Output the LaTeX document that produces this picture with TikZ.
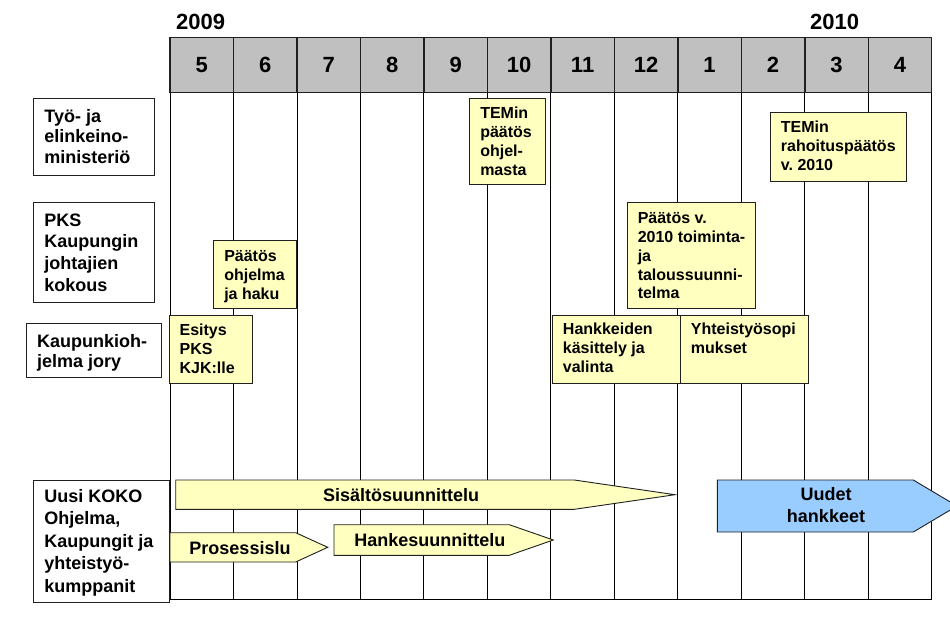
\documentclass[tikz,border=0pt]{standalone}
\usepackage{fontspec}
\setmainfont{Liberation Sans}
\definecolor{hgray}{HTML}{C0C0C0}
\definecolor{yel}{HTML}{FFFFC0}
\definecolor{blu}{HTML}{99CCFF}
\definecolor{edge}{HTML}{202020}
\newcommand\btext[4]{\parbox[c][#2][t]{#1}{\vspace*{\dimexpr#3-\ht\strutbox\relax}\raggedright\strut#4}}
\tikzset{
  hcell/.style={draw=edge, line width=1.4pt, fill=hgray, minimum width=63.48pt, minimum height=55.4pt, inner sep=0pt, font=\fontsize{22}{26}\selectfont\bfseries},
  year/.style={anchor=base west, inner sep=0pt, font=\fontsize{22}{26}\selectfont\bfseries},
  lab/.style={draw=edge, line width=0.9pt, fill=white, inner xsep=11pt, inner ysep=0pt, anchor=north west, font=\fontsize{18}{22}\selectfont\bfseries},
  ybox/.style={draw=edge, line width=0.9pt, fill=yel, inner xsep=10.5pt, inner ysep=0pt, anchor=north west, font=\fontsize{16}{19}\selectfont\bfseries},
  grid/.style={line width=0.9pt, draw=black},
  arr/.style={draw=edge, line width=0.9pt, fill=yel},
  arrtext/.style={inner sep=0pt, font=\fontsize{18}{22}\selectfont\bfseries},
}
\begin{document}
\begin{tikzpicture}[x=1pt, y=-1pt]
\clip (0,0) rectangle (950,630);
\useasboundingbox (0,0) rectangle (950,630);
% grid
\foreach \i in {0,...,12} {
  \draw[grid] ({170+\i*63.48},92.7) -- ({170+\i*63.48},599);
}
\draw[grid] (170,599) -- (931.76,599);
% header
\foreach \m [count=\i] in {5,6,7,8,9,10,11,12,1,2,3,4} {
  \node[hcell] (h\i) at ({170+(\i-0.5)*63.48},65) {\m};
}
\node[year] (y2009) at (176,29.3) {2009};
\node[year] (y2010) at (810,29.3) {2010};
% left labels
\node[lab, font=\fontsize{18}{20.8}\selectfont\bfseries] (l1) at (33,97.7) {\btext{98.7pt}{77pt}{24pt}{Työ- ja\\elinkeino-\\ministeriö}};
\node[lab, font=\fontsize{18}{21.8}\selectfont\bfseries] (l2) at (33,202.3) {\btext{98.7pt}{99.4pt}{23.4pt}{PKS\\Kaupungin\\johtajien\\kokous}};
\node[lab, font=\fontsize{18}{20}\selectfont\bfseries] (l3) at (25.7,322.7) {\btext{113.6pt}{54.6pt}{24pt}{Kaupunkioh-\\jelma jory}};
\node[lab, font=\fontsize{18}{22.5}\selectfont\bfseries] (l4) at (33,480) {\btext{114.3pt}{121.7pt}{21.7pt}{Uusi KOKO\\Ohjelma,\\Kaupungit ja\\yhteistyö-\\kumppanit}};
% yellow boxes
\node[ybox] (tem1) at (469.3,97.7) {\btext{54.7pt}{86.6pt}{20.6pt}{TEMin\\päätös\\ohjel-\\masta}};
\node[ybox] (tem2) at (770,112.3) {\btext{114.7pt}{68.4pt}{19.4pt}{TEMin\\rahoituspäätös\\v.~2010}};
\node[ybox] (paat1) at (213.3,240) {\btext{62pt}{67.7pt}{21pt}{Päätös\\ohjelma\\ja~haku}};
\node[ybox] (esit) at (168.7,314.7) {\btext{62pt}{68pt}{20.3pt}{Esitys\\PKS\\KJK:lle}};
\node[ybox, font=\fontsize{16}{18.75}\selectfont\bfseries, inner xsep=10pt] (paat2) at (627.3,202.3) {\btext{107.7pt}{106pt}{21pt}{Päätös~v.\\\mbox{2010 toiminta-}\\ja\\taloussuunni-\\telma}};
\node[ybox] (hank) at (552,314.7) {\btext{107pt}{68pt}{19.3pt}{Hankkeiden\\käsittely~ja\\valinta}};
\node[ybox] (yht) at (680,314.7) {\btext{107.3pt}{68pt}{19.3pt}{Yhteistyösopi\\mukset}};
% arrows
\draw[arr] (175.7,480) -- (574.3,480) -- (675,494.7) -- (574.3,509.3) -- (175.7,509.3) -- cycle;
\node[arrtext, anchor=base] (sis) at (401,501.7) {Sisältösuunnittelu};
\draw[arr] (170,532.7) -- (295.7,532.7) -- (327.7,547.3) -- (295.7,562) -- (170,562) -- cycle;
\node[arrtext, anchor=base] (pros) at (240,554) {Prosessislu};
\draw[arr] (334,524.7) -- (509.3,524.7) -- (553.3,540) -- (509.3,555.3) -- (334,555.3) -- cycle;
\node[arrtext, anchor=base] (hs) at (429.8,546.6) {Hankesuunnittelu};
\draw[arr, fill=blu] (717.3,480) -- (913.3,480) -- (957,506) -- (913.3,532) -- (717.3,532) -- cycle;
\node[arrtext, align=center] (uud) at (826,505.5) {Uudet\\hankkeet};
\end{tikzpicture}
\end{document}
